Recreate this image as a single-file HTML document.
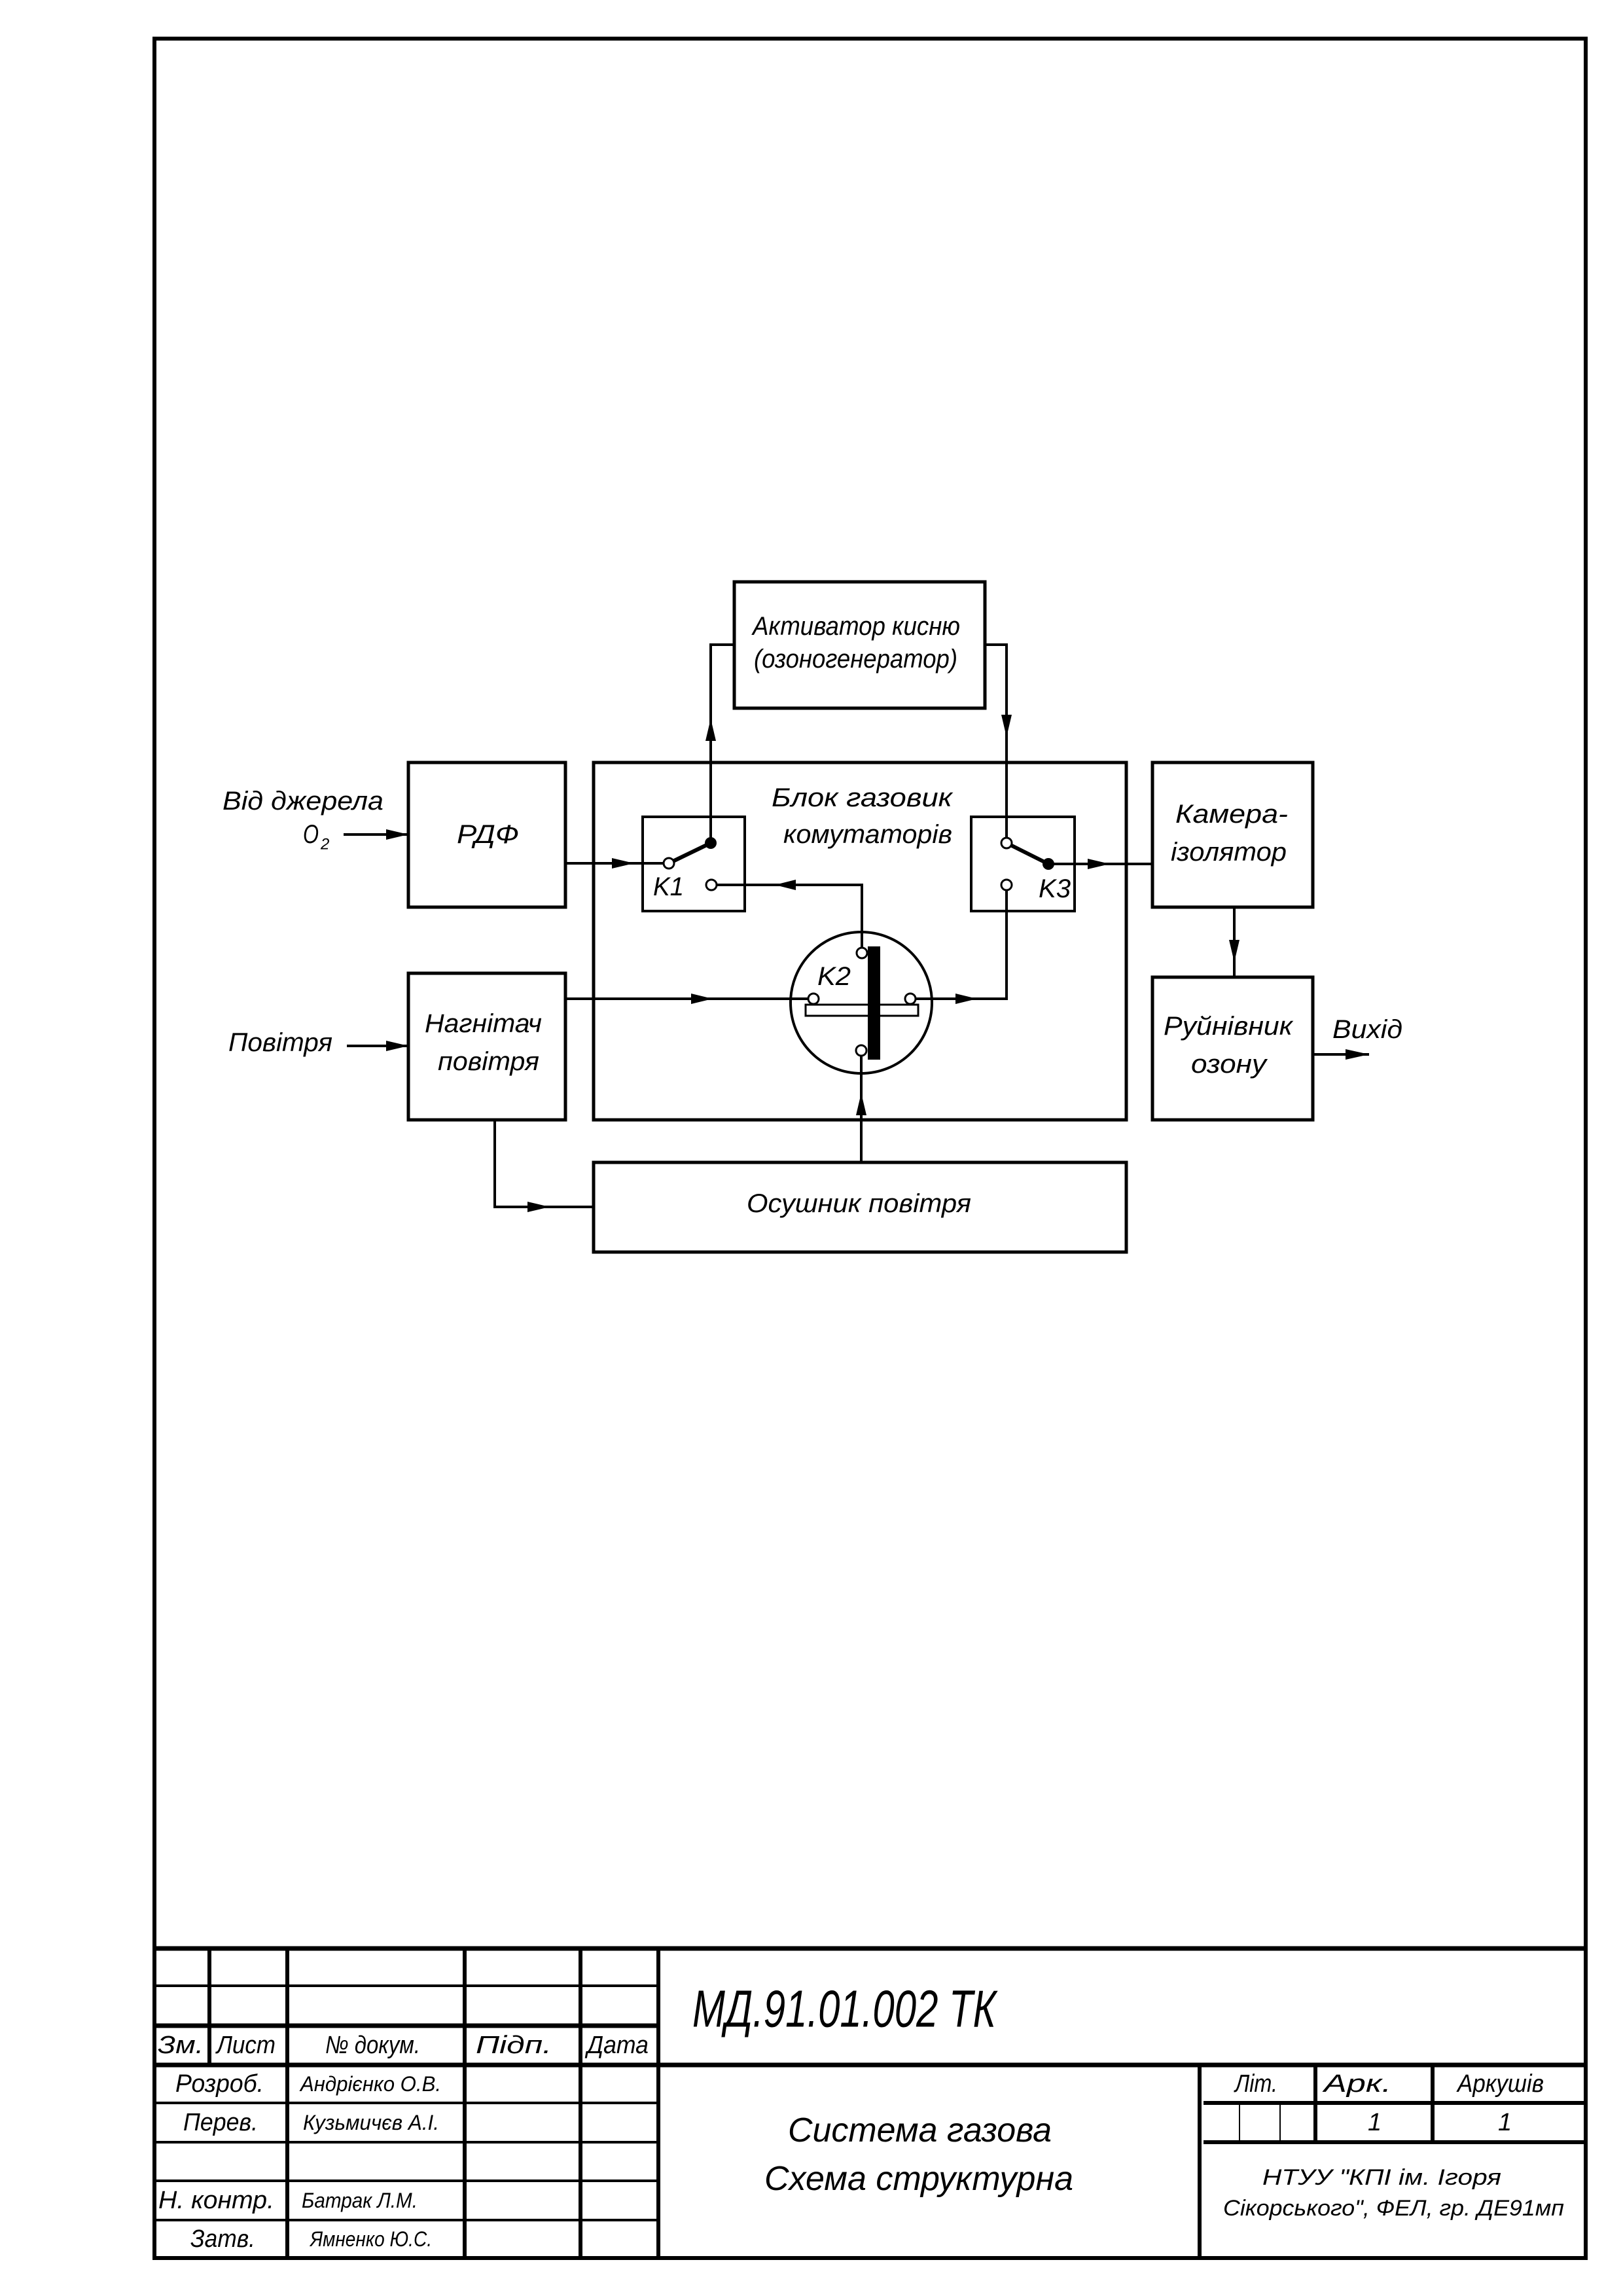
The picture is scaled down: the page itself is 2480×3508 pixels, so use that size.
<!DOCTYPE html>
<html><head><meta charset="utf-8"><style>
html,body{margin:0;padding:0;background:#fff}
svg{display:block}
text{font-family:"Liberation Sans Narrow","Liberation Sans",sans-serif;font-style:italic;fill:#000}
</style></head><body>
<svg width="2480" height="3508" viewBox="0 0 2480 3508" xmlns="http://www.w3.org/2000/svg">
<g fill="none" stroke="#000">
<rect x="236" y="59" width="2187" height="3391" stroke-width="6"/>
<g stroke-width="5">
<rect x="1122" y="889" width="383" height="193"/>
<rect x="624" y="1165" width="240" height="221"/>
<rect x="907" y="1165" width="814" height="546"/>
<rect x="1761" y="1165" width="245" height="221"/>
<rect x="624" y="1487" width="240" height="224"/>
<rect x="1761" y="1493" width="245" height="218"/>
<rect x="907" y="1776" width="814" height="137"/>
</g>
<g stroke-width="4">
<rect x="982" y="1248" width="156" height="144"/>
<rect x="1484" y="1248" width="158" height="144"/>
<circle cx="1316" cy="1532" r="108"/>
<rect x="1231" y="1535" width="172" height="17" stroke-width="3"/>
<polyline points="1086,1288 1086,985 1122,985"/>
<polyline points="1505,985 1538,985 1538,1280"/>
<polyline points="864,1319 1014,1319"/>
<polyline points="1095,1352 1317,1352 1317,1447"/>
<polyline points="1538,1360 1538,1526 1399,1526"/>
<polyline points="864,1526 1235,1526"/>
<polyline points="1602,1320 1761,1320"/>
<polyline points="1316,1613 1316,1776"/>
<polyline points="756,1711 756,1844 907,1844"/>
<polyline points="1886,1386 1886,1493"/>
<polyline points="525,1275 624,1275"/>
<polyline points="530,1598 624,1598"/>
<polyline points="2006,1611 2092,1611"/>
<line x1="1022" y1="1319" x2="1086" y2="1288" stroke-width="6"/>
<line x1="1538" y1="1288" x2="1602" y2="1320" stroke-width="6"/>
</g>
</g>
<g fill="#000">
<path d="M1086,1098 L1078,1132 L1094,1132z"/>
<path d="M1538,1126 L1530,1092 L1546,1092z"/>
<path d="M969,1319 L935,1311 L935,1327z"/>
<path d="M1184,1352 L1216,1344 L1216,1360z"/>
<path d="M1493,1526 L1460,1518 L1460,1534z"/>
<path d="M1089,1526 L1056,1518 L1056,1534z"/>
<path d="M1696,1320 L1662,1312 L1662,1328z"/>
<path d="M1316,1670 L1308,1704 L1324,1704z"/>
<path d="M840,1844 L806,1836 L806,1852z"/>
<path d="M1886,1470 L1878,1436 L1894,1436z"/>
<path d="M624,1275 L590,1267 L590,1283z"/>
<path d="M624,1598 L590,1590 L590,1606z"/>
<path d="M2092,1611 L2056,1603 L2056,1619z"/>
<rect x="1326" y="1446" width="19" height="173"/>
<circle cx="1086" cy="1288" r="9"/>
<circle cx="1602" cy="1320" r="9"/>
</g>
<g fill="#fff" stroke="#000" stroke-width="3">
<circle cx="1022" cy="1319" r="8"/>
<circle cx="1087" cy="1352" r="8"/>
<circle cx="1538" cy="1288" r="8"/>
<circle cx="1538" cy="1352" r="8"/>
<circle cx="1317" cy="1456" r="8"/>
<circle cx="1243" cy="1526" r="8"/>
<circle cx="1391" cy="1526" r="8"/>
<circle cx="1316" cy="1605" r="8"/>
</g>
<g font-size="40" dominant-baseline="central">
<text x="340" y="1224" textLength="246" lengthAdjust="spacingAndGlyphs">Від джерела</text>
<text x="463" y="1275" textLength="24" lengthAdjust="spacingAndGlyphs">O</text>
<text x="490" y="1290" font-size="24">2</text>
<text x="698" y="1275" textLength="95" lengthAdjust="spacingAndGlyphs">РДФ</text>
<text x="1150" y="957" textLength="317" lengthAdjust="spacingAndGlyphs">Активатор кисню</text>
<text x="1152" y="1007" textLength="311" lengthAdjust="spacingAndGlyphs">(озоногенератор)</text>
<text x="1179" y="1219" textLength="276" lengthAdjust="spacingAndGlyphs">Блок газовик</text>
<text x="1197" y="1275" textLength="258" lengthAdjust="spacingAndGlyphs">комутаторів</text>
<text x="998" y="1355" textLength="47" lengthAdjust="spacingAndGlyphs">K1</text>
<text x="1587" y="1358" textLength="49" lengthAdjust="spacingAndGlyphs">K3</text>
<text x="1249" y="1492" textLength="51" lengthAdjust="spacingAndGlyphs">K2</text>
<text x="1796" y="1244" textLength="172" lengthAdjust="spacingAndGlyphs">Камера-</text>
<text x="1789" y="1302" textLength="177" lengthAdjust="spacingAndGlyphs">ізолятор</text>
<text x="649" y="1564" textLength="179" lengthAdjust="spacingAndGlyphs">Нагнітач</text>
<text x="669" y="1622" textLength="155" lengthAdjust="spacingAndGlyphs">повітря</text>
<text x="1778" y="1568" textLength="197" lengthAdjust="spacingAndGlyphs">Руйнівник</text>
<text x="1820" y="1626" textLength="115" lengthAdjust="spacingAndGlyphs">озону</text>
<text x="2036" y="1573" textLength="107" lengthAdjust="spacingAndGlyphs">Вихід</text>
<text x="349" y="1593" textLength="159" lengthAdjust="spacingAndGlyphs">Повітря</text>
<text x="1141" y="1839" textLength="343" lengthAdjust="spacingAndGlyphs">Осушник повітря</text>
</g>
<g stroke="#000" fill="none">
<line x1="236" y1="2977" x2="2423" y2="2977" stroke-width="7"/>
<line x1="236" y1="3155" x2="2423" y2="3155" stroke-width="7"/>
<line x1="236" y1="3095" x2="1006" y2="3095" stroke-width="7"/>
<line x1="1839" y1="3213" x2="2423" y2="3213" stroke-width="6"/>
<line x1="1839" y1="3273" x2="2423" y2="3273" stroke-width="6"/>
<g stroke-width="4">
<line x1="236" y1="3034" x2="1006" y2="3034"/>
<line x1="236" y1="3213" x2="1006" y2="3213"/>
<line x1="236" y1="3273" x2="1006" y2="3273"/>
<line x1="236" y1="3332" x2="1006" y2="3332"/>
<line x1="236" y1="3392" x2="1006" y2="3392"/>
<line x1="1894" y1="3213" x2="1894" y2="3273" stroke-width="2"/>
<line x1="1956" y1="3213" x2="1956" y2="3273" stroke-width="2"/>
</g>
<g stroke-width="6">
<line x1="320" y1="2977" x2="320" y2="3155"/>
<line x1="439" y1="2977" x2="439" y2="3450"/>
<line x1="710" y1="2977" x2="710" y2="3450"/>
<line x1="887" y1="2977" x2="887" y2="3450"/>
<line x1="1006" y1="2977" x2="1006" y2="3450"/>
<line x1="1833" y1="3155" x2="1833" y2="3450"/>
<line x1="2010" y1="3155" x2="2010" y2="3273"/>
<line x1="2189" y1="3155" x2="2189" y2="3273"/>
</g>
</g>
<g dominant-baseline="central">
<text x="1058" y="3069" font-size="80" textLength="464" lengthAdjust="spacingAndGlyphs">МД.91.01.002 ТК</text>
<g font-size="38">
<text x="241" y="3125" textLength="70" lengthAdjust="spacingAndGlyphs">Зм.</text>
<text x="331" y="3125" textLength="90" lengthAdjust="spacingAndGlyphs">Лист</text>
<text x="497" y="3125" textLength="145" lengthAdjust="spacingAndGlyphs">№ докум.</text>
<text x="727" y="3125" textLength="116" lengthAdjust="spacingAndGlyphs">Підп.</text>
<text x="897" y="3125" textLength="94" lengthAdjust="spacingAndGlyphs">Дата</text>
<text x="268" y="3184" textLength="135" lengthAdjust="spacingAndGlyphs">Розроб.</text>
<text x="280" y="3243" textLength="114" lengthAdjust="spacingAndGlyphs">Перев.</text>
<text x="242" y="3362" textLength="177" lengthAdjust="spacingAndGlyphs">Н. контр.</text>
<text x="291" y="3421" textLength="99" lengthAdjust="spacingAndGlyphs">Затв.</text>
</g>
<g font-size="32">
<text x="459" y="3184" textLength="215" lengthAdjust="spacingAndGlyphs">Андрієнко О.В.</text>
<text x="463" y="3243" textLength="208" lengthAdjust="spacingAndGlyphs">Кузьмичєв А.І.</text>
<text x="461" y="3362" textLength="177" lengthAdjust="spacingAndGlyphs">Батрак Л.М.</text>
<text x="474" y="3421" textLength="186" lengthAdjust="spacingAndGlyphs">Ямненко Ю.С.</text>
</g>
<g font-size="52">
<text x="1204" y="3255" textLength="403" lengthAdjust="spacingAndGlyphs">Система газова</text>
<text x="1168" y="3329" textLength="472" lengthAdjust="spacingAndGlyphs">Схема структурна</text>
</g>
<g font-size="38">
<text x="1887" y="3184" textLength="65" lengthAdjust="spacingAndGlyphs">Літ.</text>
<text x="2023" y="3184" textLength="103" lengthAdjust="spacingAndGlyphs">Арк.</text>
<text x="2227" y="3184" textLength="132" lengthAdjust="spacingAndGlyphs">Аркушів</text>
<text x="2090" y="3243">1</text>
<text x="2289" y="3243">1</text>
</g>
<g font-size="34">
<text x="1929" y="3327" textLength="365" lengthAdjust="spacingAndGlyphs">НТУУ "КПІ ім. Ігоря</text>
<text x="1869" y="3374" textLength="521" lengthAdjust="spacingAndGlyphs">Сікорського", ФЕЛ, гр. ДЕ91мп</text>
</g>
</g>
</svg>
</body></html>
